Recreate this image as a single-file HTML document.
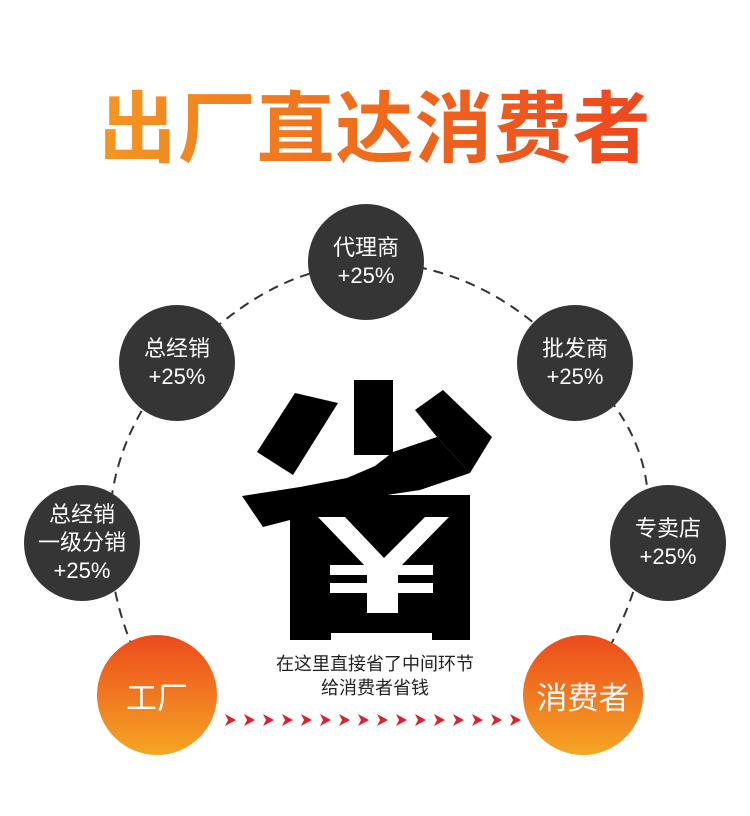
<!DOCTYPE html>
<html><head><meta charset="utf-8"><style>
html,body{margin:0;padding:0;background:#fff;}
body{width:750px;height:816px;position:relative;overflow:hidden;font-family:"Liberation Sans","Noto Sans CJK SC",sans-serif;}
.t{position:absolute;left:0;top:84px;width:750px;text-align:center;font-size:78px;font-weight:bold;letter-spacing:1px;line-height:90px;
background:linear-gradient(90deg,#f5a623,#f06a1c 50%,#ec3a20);-webkit-background-clip:text;background-clip:text;color:transparent;}
.c{position:absolute;border-radius:50%;background:#353535;color:#fff;display:flex;align-items:center;justify-content:center;text-align:center;font-size:22px;line-height:28px;}
.o{position:absolute;border-radius:50%;background:linear-gradient(180deg,#ec4a1c,#f5a623);color:#fff;display:flex;align-items:center;justify-content:center;font-size:31px;}
.s{position:absolute;left:225px;top:652px;width:300px;text-align:center;font-size:18px;line-height:24px;color:#222;}
</style></head><body>
<div class="t">出厂直达消费者</div>
<svg width="750" height="816" style="position:absolute;left:0;top:0">
<path d="M157 695 C110 620 70 480 177 363 C250 290 300 270 366 262 C450 262 520 300 575 363 C650 430 690 520 583 695" fill="none" stroke="#333" stroke-width="2" stroke-dasharray="10 7"/>
<g fill="#000">
<rect x="354" y="380" width="39" height="75"/>
<polygon points="295,393 338,403 293,475 257,452"/>
<polygon points="415,410 443,390 492,437 470,473 437,437"/>
<polygon points="242,496 300,487 347,478 375,466 393,452 437,437 470,473 420,490 387,495 290,495 290,520 263,527"/>
<polygon points="290,495 470,495 470,640 432,640 432,633 331,633 331,640 290,640"/>
</g>
<g fill="#fff">
<polygon points="318,517 449,517 400,567 366,567"/>
<rect x="330" y="565" width="103" height="10"/>
<rect x="330" y="583" width="103" height="10"/>
<rect x="367" y="567" width="31" height="46"/>
</g>
<polygon points="345,517 425,517 384,558" fill="#000"/>
<g fill="#e0202a">
<polygon points="225,714 236,720 225,726 228,720"/>
<polygon points="244,714 255,720 244,726 247,720"/>
<polygon points="263,714 274,720 263,726 266,720"/>
<polygon points="282,714 293,720 282,726 285,720"/>
<polygon points="301,714 312,720 301,726 304,720"/>
<polygon points="320,714 331,720 320,726 323,720"/>
<polygon points="339,714 350,720 339,726 342,720"/>
<polygon points="358,714 369,720 358,726 361,720"/>
<polygon points="377,714 388,720 377,726 380,720"/>
<polygon points="396,714 407,720 396,726 399,720"/>
<polygon points="415,714 426,720 415,726 418,720"/>
<polygon points="434,714 445,720 434,726 437,720"/>
<polygon points="453,714 464,720 453,726 456,720"/>
<polygon points="472,714 483,720 472,726 475,720"/>
<polygon points="491,714 502,720 491,726 494,720"/>
<polygon points="510,714 521,720 510,726 513,720"/>
</g>
</svg>
<div class="c" style="left:308px;top:204px;width:116px;height:116px;">代理商<br>+25%</div>
<div class="c" style="left:119px;top:305px;width:116px;height:116px;">总经销<br>+25%</div>
<div class="c" style="left:517px;top:305px;width:116px;height:116px;">批发商<br>+25%</div>
<div class="c" style="left:24px;top:485px;width:116px;height:116px;">总经销<br>一级分销<br>+25%</div>
<div class="c" style="left:610px;top:485px;width:116px;height:116px;">专卖店<br>+25%</div>
<div class="o" style="left:97px;top:635px;width:120px;height:120px;">工厂</div>
<div class="o" style="left:523px;top:635px;width:120px;height:120px;">消费者</div>
<div class="s">在这里直接省了中间环节<br>给消费者省钱</div>
</body></html>
